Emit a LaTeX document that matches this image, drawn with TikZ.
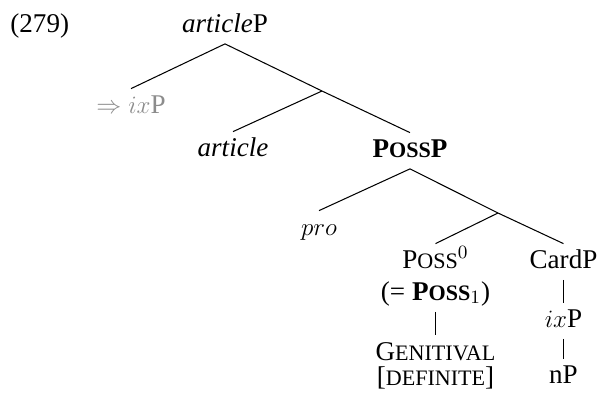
\documentclass[tikz,border=0pt]{standalone}
\usepackage{fontspec}
\setmainfont{Liberation Serif}
\newcommand\fsc[1]{{\fontsize{10.6pt}{11pt}\selectfont #1}}
\begin{document}
\begin{tikzpicture}[x=0.48pt,y=-0.48pt,
  tn/.style={anchor=base, inner xsep=1pt, inner ysep=3pt, text height=8.5pt, text depth=2.5pt, font=\fontsize{13pt}{15pt}\selectfont},
  br/.style={line width=0.5pt}]
\useasboundingbox (0,0) rectangle (598,396);
\node[anchor=base west, inner sep=0pt, font=\fontsize{13pt}{15pt}\selectfont] (ex) at (10,32) {(279)};
\node[tn] (artP) at (225,32) {\textit{article}P};
\node[tn, text=black!45] (ixg) at (131,113) {$\Rightarrow ix\mathrm{P}$};
\coordinate (j1) at (322,91);
\node[tn] (art) at (233,156) {\textit{article}};
\node[tn] (possP) at (410,157) {\textbf{P\fsc{OSS}P}};
\node[tn] (pro) at (319,235) {$pro$};
\coordinate (j2) at (498,213);
\node[tn] (poss0) at (435.5,268) {P\fsc{OSS}$^0$};
\node[tn] (posseq) at (435.5,300) {(= \textbf{P\fsc{OSS}}$_1$)};
\node[tn, text depth=1pt, inner ysep=1pt] (gen) at (435.5,360) {G\fsc{ENITIVAL}};
\node[tn, text height=7pt, inner ysep=1pt] (def) at (435.5,385) {[\fsc{DEFINITE}]};
\node[tn] (card) at (563.5,268) {CardP};
\node[tn] (ixp) at (563.5,327) {$ix$P};
\node[tn] (np) at (563.5,383) {nP};
\draw[br] (ixg.north) -- (artP.south) -- (j1) -- (possP.north);
\draw[br] (j1) -- (art.north);
\draw[br] (pro.north) -- (possP.south) -- (j2) -- (card.north);
\draw[br] (j2) -- (poss0.north);
\draw[br] (posseq.south) -- ([yshift=2.4pt]gen.north);
\draw[br] (card.south) -- (ixp.north);
\draw[br] (ixp.south) -- (np.north);
\end{tikzpicture}
\end{document}
